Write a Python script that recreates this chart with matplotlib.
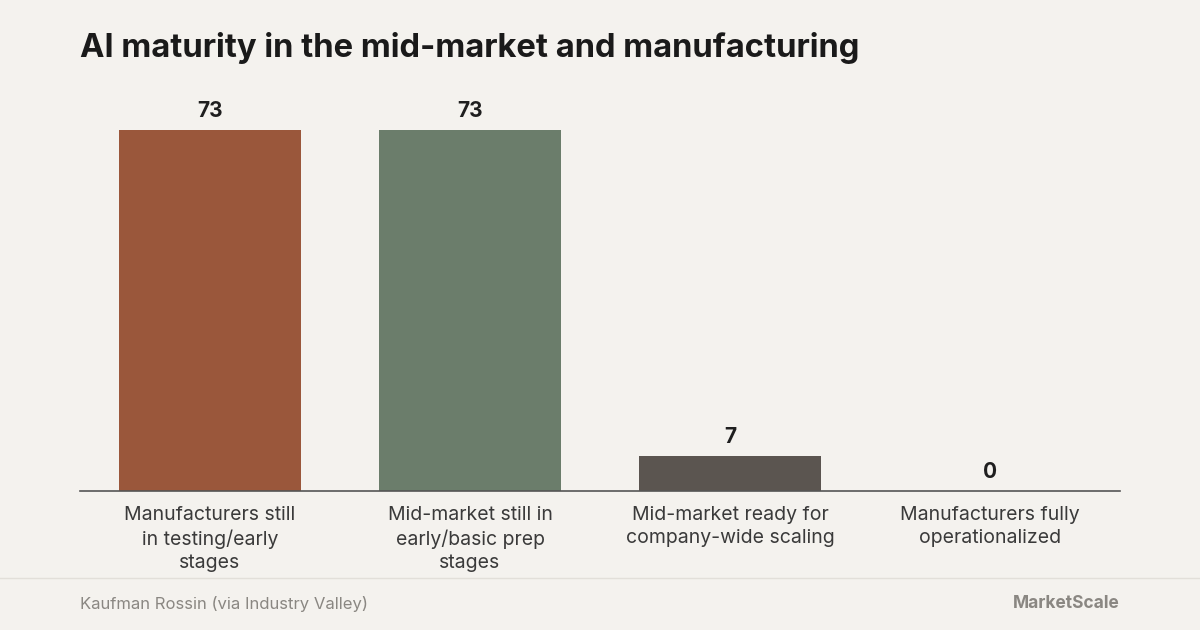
import matplotlib.pyplot as plt
from matplotlib.lines import Line2D

categories = ["Manufacturers still\nin testing/early\nstages",
              "Mid-market still in\nearly/basic prep\nstages",
              "Mid-market ready for\ncompany-wide scaling",
              "Manufacturers fully\noperationalized"]
values = [73, 73, 7, 0]
colors = ["#9A573B", "#6B7D6B", "#5B5550", "#5B5550"]

bg = "#F4F2EE"
plt.rcParams['font.family'] = ['Inter', 'DejaVu Sans']

fig = plt.figure(figsize=(12, 6.3), dpi=100, facecolor=bg)
ax = fig.add_axes([80 / 1200, 1 - 491 / 630, 1040 / 1200, 391 / 630])
ax.set_facecolor(bg)

x = list(range(len(values)))
ax.bar(x, values, width=0.7, color=colors)
for xi, v in zip(x, values):
    ax.text(xi, v + 1.9, str(v), ha="center", va="bottom",
            fontsize=15, fontweight="bold", color="#1F1F1F")

ax.set_xlim(-0.5, 3.5)
ax.set_ylim(0, 391 / 4.945)
ax.set_yticks([])
ax.set_xticks(x)
ax.set_xticklabels(categories, fontsize=14, color="#3A3A3A", linespacing=1.35)
ax.tick_params(axis="x", length=0, pad=11)
for s in ["top", "right", "left"]:
    ax.spines[s].set_visible(False)
ax.spines["bottom"].set_color("#555555")
ax.spines["bottom"].set_linewidth(1.2)

fig.text(80 / 1200, 1 - 48 / 630, "AI maturity in the mid-market and manufacturing",
         fontsize=23.6, fontweight="bold", color="#1A1A1A", va="center")

fig.add_artist(Line2D([0, 1], [1 - 578 / 630] * 2, color="#E2DFD9", lw=1))
fig.text(80 / 1200, 1 - 604 / 630, "Kaufman Rossin (via Industry Valley)",
         fontsize=12, color="#8A8782", va="center")
fig.text(1120 / 1200, 1 - 604 / 630, "MarketScale", fontsize=12.5, fontweight="bold",
         color="#8A8782", va="center", ha="right")

fig.savefig("out.png", dpi=100, facecolor=bg)
